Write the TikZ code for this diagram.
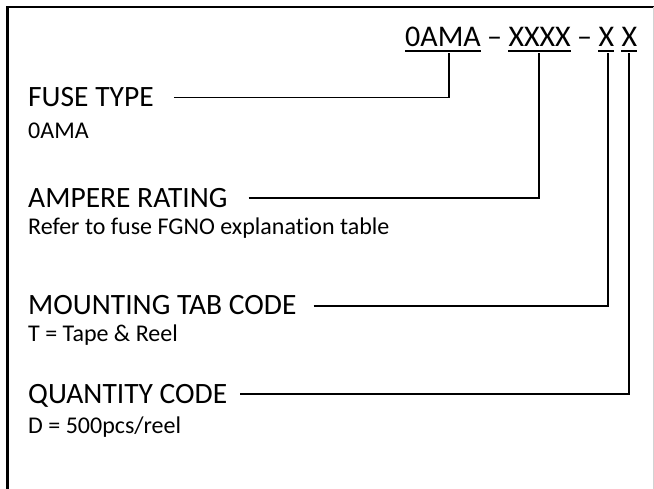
\documentclass[tikz,border=0pt]{standalone}
\usepackage{fontspec}
\setmainfont{Carlito}[Ligatures=NoCommon]
\usetikzlibrary{positioning}

\tikzstyle{title} = [inner sep=0pt, anchor=base west, font=\fontsize{30}{35}\selectfont]
\tikzstyle{part} = [title, text depth=0pt, inner ysep=4pt]
\tikzstyle{label} = [inner sep=0pt, anchor=base west, text height=18.4pt, text depth=0pt, font=\fontsize{29.5}{34}\selectfont]
\tikzstyle{sublabel} = [inner sep=0pt, anchor=base west, font=\fontsize{24}{28}\selectfont]
\tikzstyle{uline} = [line width=1.7pt]
\tikzstyle{link} = [line width=1.8pt, shorten >=2pt]

\begin{document}
\begin{tikzpicture}[x=1pt, y=-1pt]
    \useasboundingbox (0,0) rectangle (654,489);
    % frame
    \draw [line width=2.2pt] (7.5,489) -- (7.5,6.7) -- (654,6.7);
    \draw [gray!35, line width=1pt] (653.4,7) -- (653.4,489);

    % part number
    \node (part1) [part] at (405,46.7) {0AMA};
    \node (dash1) [title, base right=6pt of part1] {–};
    \node (part2) [part, base right=6pt of dash1] {XXXX};
    \node (dash2) [title, base right=6pt of part2] {–};
    \node (part3) [part, base right=6pt of dash2] {X};
    \node (part4) [part, base right=7pt of part3] {X};
    \foreach \p in {part1,part2,part3,part4}
        \draw [uline] (\p.south west) -- (\p.south east);

    % fields
    \node (lbl1) [label] at (28,106.7) {FUSE TYPE};
    \node (sub1) [sublabel] at (28,139) {0AMA};
    \node (lbl2) [label] at (28,207.3) {AMPERE RATING};
    \node (sub2) [sublabel] at (28,234.3) {Refer to fuse FGNO explanation table};
    \node (lbl3) [label] at (28,315) {MOUNTING TAB CODE};
    \node (sub3) [sublabel] at (28,341.7) {T = Tape \& Reel};
    \node (lbl4) [label] at (28,403.3) {QUANTITY CODE};
    \node (sub4) [sublabel] at (28,433.3) {D = 500pcs/reel};

    \draw [link] ([xshift=20pt]lbl1.east) -| ([xshift=6pt]part1.south);
    \draw [link] ([xshift=21pt]lbl2.east) -| ([xshift=-1pt]part2.south);
    \draw [link] ([xshift=17pt]lbl3.east) -| ([xshift=2pt]part3.south);
    \draw [link] ([xshift=13pt]lbl4.east) -| (part4.south);
\end{tikzpicture}
\end{document}
